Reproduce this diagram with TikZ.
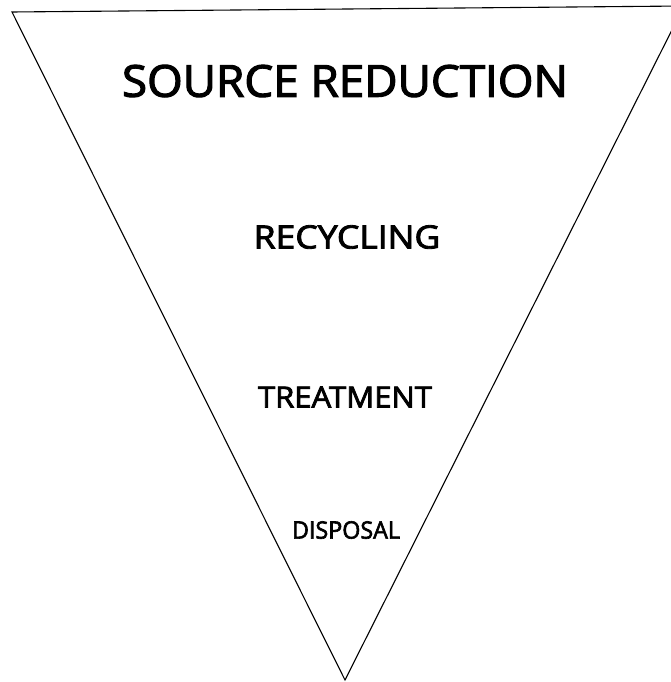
\documentclass[tikz,border=0pt]{standalone}
\usepackage{fontspec}
\setmainfont{Open Sans}[AutoFakeBold=2.6]
\tikzset{level/.style={inner sep=0pt, font=\bfseries}}
\newcommand{\wide}[2]{\scalebox{#1}[1]{#2}}
\begin{document}
\begin{tikzpicture}[x=1pt,y=-1pt]
	\useasboundingbox (0,0) rectangle (671,682);
	\clip (0,0) rectangle (671,682);
	\coordinate (tl) at (12,12);
	\coordinate (tr) at (684,6);
	\coordinate (apex) at (345,680);
	\draw[line width=1.1pt, line join=miter] (tl) -- (tr) -- (apex) -- cycle;
	\node[level, font=\fontsize{44}{44}\selectfont\bfseries] (source) at (345,81) {\wide{1.04}{SOURCE REDUCTION}};
	\node[level, font=\fontsize{32}{32}\selectfont\bfseries] (recycling) at (347,237) {\wide{1.11}{RECYCLING}};
	\node[level, font=\fontsize{29}{29}\selectfont\bfseries] (treatment) at (345,397) {\wide{1.07}{TREATMENT}};
	\node[level, font=\fontsize{24}{24}\selectfont\bfseries] (disposal) at (346,530) {\wide{0.97}{DISPOSAL}};
\end{tikzpicture}
\end{document}
